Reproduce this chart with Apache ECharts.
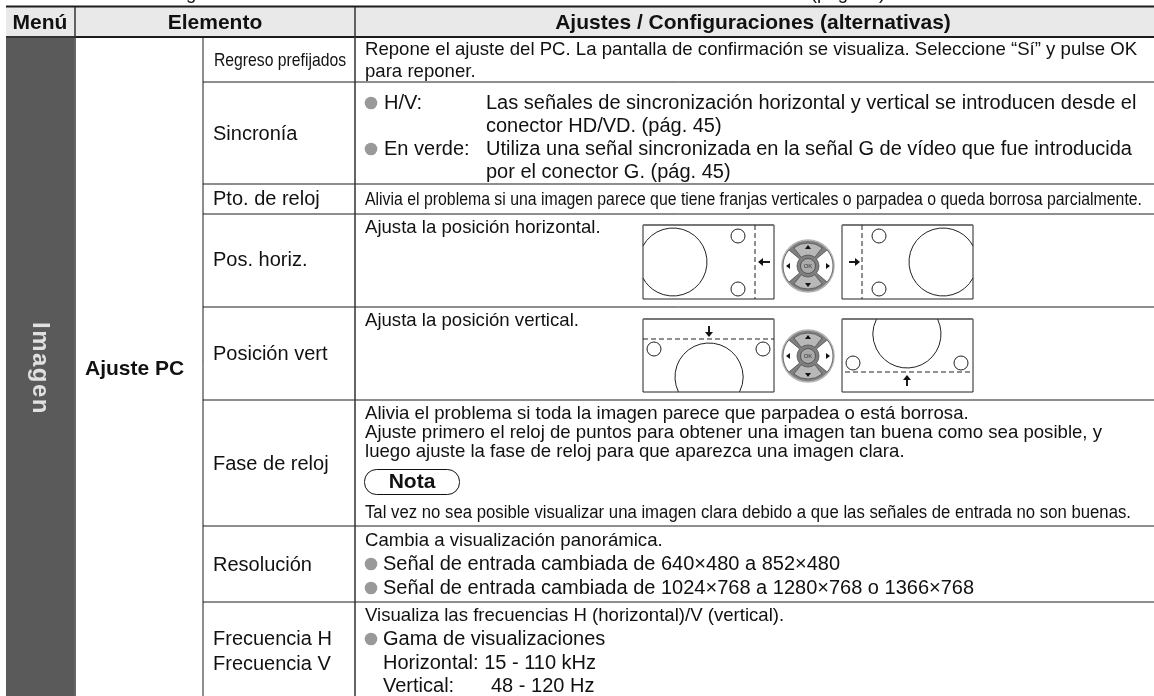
<!DOCTYPE html>
<html>
<head>
<meta charset="utf-8">
<script src="https://cdn.jsdelivr.net/npm/echarts@6/dist/echarts.min.js"></script>
<style>
  html, body { margin: 0; padding: 0; background: #fff; }
  #main { width: 1154px; height: 696px; }
</style>
</head>
<body>
<div id="main"></div>
<script>
var headerLabels = ['Menú', 'Elemento', 'Ajustes / Configuraciones (alternativas)'];
var menuLetters = ['I', 'm', 'a', 'g', 'e', 'n'];
var groupLabel = 'Ajuste PC';
var itemLabels = ['Regreso prefijados', 'Sincronía', 'Pto. de reloj', 'Pos. horiz.', 'Posición vert', 'Fase de reloj', 'Resolución', 'Frecuencia H', 'Frecuencia V'];
var resetLines = ['Repone el ajuste del PC. La pantalla de confirmación se visualiza. Seleccione “Sí” y pulse OK', 'para reponer.'];
var syncTerms = ['H/V:', 'En verde:'];
var syncLines = ['Las señales de sincronización horizontal y vertical se introducen desde el', 'conector HD/VD. (pág. 45)', 'Utiliza una señal sincronizada en la señal G de vídeo que fue introducida', 'por el conector G. (pág. 45)'];
var dotClockLine = 'Alivia el problema si una imagen parece que tiene franjas verticales o parpadea o queda borrosa parcialmente.';
var horizLine = 'Ajusta la posición horizontal.';
var vertLine = 'Ajusta la posición vertical.';
var phaseLines = ['Alivia el problema si toda la imagen parece que parpadea o está borrosa.', 'Ajuste primero el reloj de puntos para obtener una imagen tan buena como sea posible, y', 'luego ajuste la fase de reloj para que aparezca una imagen clara.'];
var noteTitle = 'Nota';
var noteLine = 'Tal vez no sea posible visualizar una imagen clara debido a que las señales de entrada no son buenas.';
var resolutionLines = ['Cambia a visualización panorámica.', 'Señal de entrada cambiada de 640×480 a 852×480', 'Señal de entrada cambiada de 1024×768 a 1280×768 o 1366×768'];
var freqLines = ['Visualiza las frecuencias H (horizontal)/V (vertical).', 'Gama de visualizaciones', 'Horizontal: 15 - 110 kHz', 'Vertical:', '48 - 120 Hz'];
var topFragments = ['g', '(pág. 45)'];

var FONT = '"Liberation Sans", Arial, sans-serif';
var els = [];
var measureCtx = document.createElement('canvas').getContext('2d');

function rect(x, y, w, h, fill) {
  els.push({ type: 'rect', shape: { x: x, y: y, width: w, height: h }, style: { fill: fill }, silent: true });
}
function line(x1, y1, x2, y2, w, color, dash) {
  els.push({ type: 'line', shape: { x1: x1, y1: y1, x2: x2, y2: y2 }, style: { stroke: color || '#1c1c1c', lineWidth: w || 1, lineDash: dash || null }, silent: true });
}
function text(str, x, y, size, opt) {
  opt = opt || {};
  var font = (opt.bold ? 'bold ' : '') + size + 'px ' + FONT;
  var sx = 1;
  if (opt.width) {
    // some lines in the manual are condensed to fit their cell
    measureCtx.font = font;
    sx = opt.width / measureCtx.measureText(str).width;
  }
  els.push({
    type: 'text', x: x, y: y, scaleX: sx, rotation: opt.rot || 0, silent: true,
    style: { text: str, fill: opt.color || '#111', textAlign: opt.align || 'left', textVerticalAlign: 'middle', font: font }
  });
}
function bullet(x, y) {
  els.push({ type: 'circle', shape: { cx: x, cy: y, r: 6.3 }, style: { fill: '#999' }, silent: true });
}
function ring(cx, cy, r) {
  els.push({ type: 'circle', shape: { cx: cx, cy: cy, r: r }, style: { fill: '#fff', stroke: '#222', lineWidth: 1 }, silent: true });
}
function arc(cx, cy, r, from, to) {
  els.push({ type: 'arc', shape: { cx: cx, cy: cy, r: r, startAngle: from * Math.PI / 180, endAngle: to * Math.PI / 180, clockwise: true }, style: { stroke: '#222', fill: null, lineWidth: 1 }, silent: true });
}
function tri(points, fill) {
  els.push({ type: 'polygon', shape: { points: points }, style: { fill: fill || '#111' }, silent: true });
}
function box(x, y, w, h) {
  els.push({ type: 'rect', shape: { x: x, y: y, width: w, height: h }, style: { fill: '#fff', stroke: '#222', lineWidth: 1 }, silent: true });
  line(x, y, x + w, y, 2, '#777');
}
function sector(cx, cy, r0, r, from, to, fill) {
  els.push({ type: 'sector', shape: { cx: cx, cy: cy, r0: r0, r: r, startAngle: from * Math.PI / 180, endAngle: to * Math.PI / 180, clockwise: true }, style: { fill: fill, stroke: '#444', lineWidth: 0.7 }, silent: true });
}
function remote(cx, cy) {
  els.push({ type: 'circle', shape: { cx: cx, cy: cy, r: 26 }, style: { fill: '#808080', stroke: '#b5b5b5', lineWidth: 1.5 }, silent: true });
  sector(cx, cy, 11, 23, 232, 308, '#b8b8b8');
  sector(cx, cy, 11, 23, 52, 128, '#b8b8b8');
  sector(cx, cy, 11, 25, 140, 220, '#fff');
  sector(cx, cy, 11, 25, -40, 40, '#fff');
  els.push({ type: 'circle', shape: { cx: cx, cy: cy, r: 7.5 }, style: { fill: '#aaa', stroke: '#444', lineWidth: 0.8 }, silent: true });
  text('OK', cx, cy, 6, { align: 'center', color: '#333' });
  tri([[cx - 3, cy - 17], [cx + 3, cy - 17], [cx, cy - 21]]);
  tri([[cx - 3, cy + 17], [cx + 3, cy + 17], [cx, cy + 21]]);
  tri([[cx - 18, cy - 3], [cx - 18, cy + 3], [cx - 22, cy]]);
  tri([[cx + 18, cy - 3], [cx + 18, cy + 3], [cx + 22, cy]]);
}

// header band and menu column
rect(6, 7, 1148, 29, '#e9e9e9');
rect(6, 38, 68, 658, '#5a5a5a');

// rules
var rowLines = [82, 184, 214, 307, 400, 526, 602];
rowLines.forEach(function (y) { line(203, y, 1154, y, 1); });
line(6, 6.5, 1154, 6.5, 2);
line(75, 37, 1154, 37, 2);
line(6, 37, 75, 37, 2, '#333');
line(75, 7, 75, 696, 1.5, '#333');
line(203, 37, 203, 696, 1);
line(355, 7, 355, 696, 1.5, '#333');

// header
var HEAD = 21;
text(headerLabels[0], 40, 23, HEAD, { bold: true, align: 'center' });
text(headerLabels[1], 215, 23, HEAD, { bold: true, align: 'center' });
text(headerLabels[2], 753, 23, HEAD, { bold: true, align: 'center' });
text(topFragments[0], 186, -6, 18.6);
text(topFragments[1], 848, -6, 18.6, { align: 'center' });

// rotated menu name, spaced letter by letter
var letterOffsets = [0, 8.2, 31, 45.8, 62, 76.8];
menuLetters.forEach(function (ch, i) {
  text(ch, 40, 322 + letterOffsets[i], 24, { bold: true, color: '#e0e0e0', rot: -Math.PI / 2 });
});

text(groupLabel, 85, 369, 21, { bold: true });

// item column
var BIG = 20;
var SMALL = 18.6;
text(itemLabels[0], 214, 61, 19, { width: 132 });
text(itemLabels[1], 213, 134, BIG);
text(itemLabels[2], 213, 199, BIG);
text(itemLabels[3], 213, 260, BIG);
text(itemLabels[4], 213, 354, BIG);
text(itemLabels[5], 213, 464, BIG);
text(itemLabels[6], 213, 565, BIG);
text(itemLabels[7], 213, 639, BIG);
text(itemLabels[8], 213, 664, BIG);

// description column
var DX = 365;
text(resetLines[0], DX, 50, SMALL);
text(resetLines[1], DX, 72, SMALL);

bullet(371, 103); bullet(371, 149);
text(syncTerms[0], 384, 103, BIG);
text(syncTerms[1], 384, 149, BIG);
text(syncLines[0], 486, 103, BIG);
text(syncLines[1], 486, 126, BIG);
text(syncLines[2], 486, 149, BIG);
text(syncLines[3], 486, 172, BIG);

text(dotClockLine, DX, 200, 17.5, { width: 777 });

// Pos. horiz. row
text(horizLine, DX, 228, SMALL);
box(643, 225, 131, 74);
arc(673, 262, 34, 208, 512);
ring(738, 236, 7); ring(738, 289, 7);
line(755, 225, 755, 299, 1, '#222', [5, 3]);
line(761, 262, 770, 262, 2);
tri([[758, 262], [763, 258], [763, 266]]);
remote(808, 266);
box(842, 225, 131, 74);
arc(943, 262, 34, 28, 332);
ring(879, 236, 7); ring(879, 289, 7);
line(862, 225, 862, 299, 1, '#222', [5, 3]);
line(849, 262, 857, 262, 2);
tri([[860, 262], [855, 258], [855, 266]]);

// Posición vert row
text(vertLine, DX, 321, SMALL);
box(643, 319, 131, 73);
arc(709, 377, 34, 154, 386);
ring(654, 349, 7); ring(763, 349, 7);
line(643, 339, 774, 339, 1, '#222', [5, 3]);
line(709, 326, 709, 333, 2);
tri([[709, 337], [705, 332], [713, 332]]);
remote(808, 356);
box(842, 319, 131, 73);
arc(907, 334, 34, -26, 206);
ring(853, 363, 7); ring(961, 363, 7);
line(845, 372, 973, 372, 1, '#222', [5, 3]);
line(907, 379, 907, 386, 2);
tri([[907, 375], [903, 380], [911, 380]]);

// Fase de reloj row
text(phaseLines[0], DX, 414, SMALL);
text(phaseLines[1], DX, 433, SMALL);
text(phaseLines[2], DX, 452, SMALL);
els.push({ type: 'rect', shape: { x: 364.5, y: 469.5, width: 95, height: 25, r: 12 }, style: { fill: '#fff', stroke: '#111', lineWidth: 1 }, silent: true });
text(noteTitle, 412, 482, 21, { bold: true, align: 'center' });
text(noteLine, DX, 513, 18, { width: 766 });

// Resolución row
text(resolutionLines[0], DX, 541, SMALL);
bullet(371, 564); bullet(371, 588);
text(resolutionLines[1], 383, 564, BIG);
text(resolutionLines[2], 383, 588, BIG);

// Frecuencia row
text(freqLines[0], DX, 616, SMALL);
bullet(371, 639);
text(freqLines[1], 383, 639, BIG);
text(freqLines[2], 383, 663, BIG);
text(freqLines[3], 383, 686, BIG);
text(freqLines[4], 491, 686, BIG);

var chart = echarts.init(document.getElementById('main'), null, { renderer: 'canvas' });
chart.setOption({ animation: false, graphic: { elements: els } });
</script>
</body>
</html>
